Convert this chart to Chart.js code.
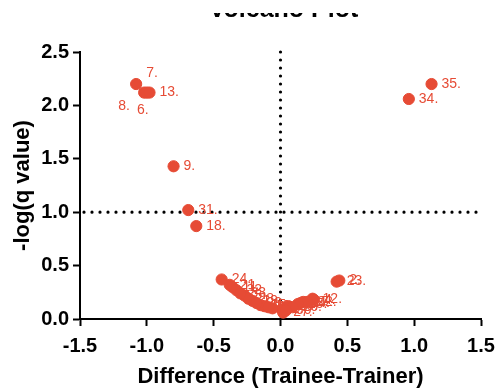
<!DOCTYPE html>
<html lang="en">
<head>
  <meta charset="UTF-8" />
  <title>Volcano Plot</title>
  <script src="https://cdn.jsdelivr.net/npm/chart.js"></script>
  <style>
    html, body { margin: 0; padding: 0; background: white; overflow: hidden; }
    #wrap { position: relative; width: 499px; height: 388px; }
  </style>
</head>
<body>
  <div id="wrap"><canvas id="volcano"></canvas></div>
  <script>
    // one entry per protein / feature
    const pointIds = [1, 2, 3, 4, 5, 6, 7, 8, 9, 10, 11, 12, 13, 14, 15, 16, 17, 18,
      19, 20, 21, 22, 23, 24, 25, 26, 27, 28, 29, 30, 31, 32, 33, 34, 35];
    const differences = [0.01, 0.44, -0.27, 0.25, -0.06, -1.00, -1.08, -1.02, -0.80, -0.12,
      -0.36, 0.24, -0.98, 0.15, -0.15, -0.09, 0.17, -0.63, -0.21, 0.06,
      -0.38, 0.20, 0.42, -0.44, 0.13, 0.09, 0.02, -0.24, -0.18, 0.04,
      -0.69, -0.33, -0.30, 0.96, 1.13];
    const negLogQ = [0.09, 0.36, 0.22, 0.18, 0.10, 2.12, 2.20, 2.12, 1.43, 0.12,
      0.30, 0.19, 2.12, 0.15, 0.13, 0.11, 0.16, 0.87, 0.17, 0.12,
      0.32, 0.16, 0.35, 0.37, 0.14, 0.11, 0.06, 0.19, 0.15, 0.08,
      1.02, 0.27, 0.24, 2.06, 2.20];
    const xTicks = [-1.5, -1.0, -0.5, 0.0, 0.5, 1.0, 1.5];
    const yTicks = [0.0, 0.5, 1.0, 1.5, 2.0, 2.5];
    const cutX = 0;   // vertical threshold
    const cutY = 1;   // horizontal threshold

    const red = '#E64B35';
    const fontFamily = "'Liberation Sans', Arial, sans-serif";

    const points = pointIds.map((id, i) => ({ x: differences[i], y: negLogQ[i], id }));

    // dotted threshold lines
    const thresholdLines = {
      id: 'thresholdLines',
      beforeDatasetsDraw(chart) {
        const { ctx, chartArea, scales } = chart;
        const px = scales.x.getPixelForValue(cutX);
        const py = scales.y.getPixelForValue(cutY);
        ctx.save();
        ctx.strokeStyle = '#000';
        ctx.lineWidth = 3.2;
        ctx.lineCap = 'round';
        ctx.setLineDash([0, 8]);
        ctx.beginPath();
        ctx.moveTo(chartArea.left + 4, py);
        ctx.lineTo(chartArea.right - 4, py);
        ctx.moveTo(px, chartArea.top);
        ctx.lineTo(px, chartArea.bottom);
        ctx.stroke();
        ctx.restore();
      }
    };

    // "N." labels next to each dot
    const pointLabels = {
      id: 'pointLabels',
      beforeDatasetsDraw(chart, args, opts) {
        const { ctx, scales } = chart;
        ctx.save();
        ctx.font = '14px ' + fontFamily;
        ctx.fillStyle = red;
        ctx.textBaseline = 'middle';
        points.forEach(p => {
          const x = scales.x.getPixelForValue(p.x);
          const y = scales.y.getPixelForValue(p.y);
          const o = opts.offsets[p.id] || [10, 0, 'left'];
          ctx.textAlign = o[2];
          ctx.fillText(p.id + '.', x + o[0], y + o[1]);
        });
        ctx.restore();
      }
    };

    // title, only its lower edge shows in the original
    const clippedTitle = {
      id: 'clippedTitle',
      afterDraw(chart) {
        const { ctx, chartArea } = chart;
        ctx.save();
        ctx.beginPath();
        ctx.rect(0, 13, chart.width, 20);
        ctx.clip();
        ctx.font = 'bold 25px ' + fontFamily;
        ctx.fillStyle = '#000';
        ctx.textAlign = 'center';
        ctx.textBaseline = 'alphabetic';
        ctx.fillText('Volcano Plot', (chartArea.left + chartArea.right) / 2 + 3, 17);
        ctx.restore();
      }
    };

    const axisTicks = (vals) => (scale) => {
      scale.ticks = vals.map(v => ({ value: v }));
    };

    new Chart(document.getElementById('volcano'), {
      type: 'scatter',
      data: {
        datasets: [{
          data: points,
          backgroundColor: red,
          borderColor: red,
          pointRadius: 5.6,
          pointHoverRadius: 5.6
        }]
      },
      options: {
        responsive: true,
        maintainAspectRatio: false,
        animation: false,
        layout: { padding: { top: 52, right: 18, left: 0, bottom: 0 } },
        plugins: {
          legend: { display: false },
          tooltip: { enabled: false },
          pointLabels: {
            offsets: {
              6: [-4, 18, 'center'],
              7: [10, -11, 'left'],
              8: [-20, 14, 'center']
            }
          }
        },
        scales: {
          x: {
            type: 'linear',
            min: -1.5,
            max: 1.5,
            afterBuildTicks: axisTicks(xTicks),
            afterFit(s) {
              s.height = 69;
              s.paddingLeft = 0;
              s.paddingRight = 0;
            },
            border: { color: '#000', width: 2 },
            grid: { drawOnChartArea: false, drawTicks: true, tickLength: 7, tickWidth: 2, tickColor: '#000' },
            ticks: {
              color: '#000',
              padding: 8,
              font: { family: fontFamily, size: 20, weight: 'bold' },
              callback: v => v.toFixed(1),
              maxRotation: 0
            },
            title: {
              display: true,
              text: 'Difference (Trainee-Trainer)',
              color: '#000',
              padding: { top: 0, bottom: 0 },
              font: { family: fontFamily, size: 22, weight: 'bold', lineHeight: 1.0 }
            }
          },
          y: {
            type: 'linear',
            min: 0,
            max: 2.5,
            afterBuildTicks: axisTicks(yTicks),
            afterFit(s) { s.width = 80; },
            border: { color: '#000', width: 2 },
            grid: { drawOnChartArea: false, drawTicks: true, tickLength: 7, tickWidth: 2, tickColor: '#000' },
            ticks: {
              color: '#000',
              padding: 4,
              font: { family: fontFamily, size: 20, weight: 'bold' },
              callback: v => v.toFixed(1)
            },
            title: {
              display: true,
              text: '-log(q value)',
              color: '#000',
              padding: { top: 10, bottom: 0 },
              font: { family: fontFamily, size: 22, weight: 'bold' }
            }
          }
        }
      },
      plugins: [thresholdLines, pointLabels, clippedTitle]
    });
  </script>
</body>
</html>
